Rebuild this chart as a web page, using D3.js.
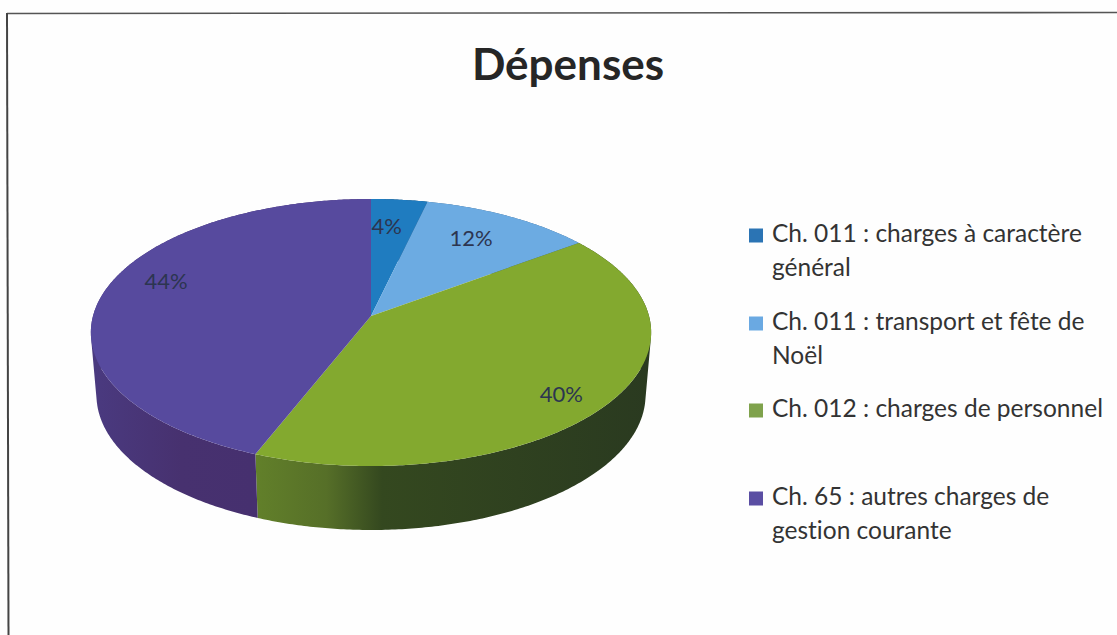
<!DOCTYPE html>
<html lang="fr">
<head>
<meta charset="utf-8">
<script src="https://cdn.jsdelivr.net/npm/d3@7"></script>
<style>
html,body{margin:0;padding:0;background:#fefefe;overflow:hidden}
svg{display:block;font-family:Lato,"Noto Sans",sans-serif;font-variant-ligatures:none}
</style>
</head>
<body>
<svg id="chart" width="1117" height="635"></svg>
<script>
const chartTitle = "Dépenses";
const categories = ["Ch. 011 : charges à caractère général","Ch. 011 : transport et fête de Noël","Ch. 012 : charges de personnel","Ch. 65 : autres charges de gestion courante"];
const legendLines = [["Ch. 011 : charges à caractère","général"],["Ch. 011 : transport et fête de","Noël"],["Ch. 012 : charges de personnel"],["Ch. 65 : autres charges de","gestion courante"]];
const values = [4,12,40,44];
const topColors = ["#1f7cc0","#6cabe2","#83a92f","#574a9e"];
const swatchColors = ["#2b74b4","#6aa9e2","#7fa24c","#5a4ea3"];

// layout
const cx = 371, cy = 316, depthShift = 62.3, rimScaleX = 0.98, rimScaleY = 1.011;
const persp = 0.1236, bx = 278, ay = 131.5, viewWarp = 5*Math.PI/180;
const labelAngleShift = [-2,-2,5,9];
const labelRadius = [0.75,0.75,0.845,0.81];
const legendY = [233,321,408,496];

const svg = d3.select("#chart");
const project = (a0, r = 1) => {
  const s0 = Math.sin(a0);
  const a = a0 - (s0 > 0 ? viewWarp*s0 : 0);
  const x = Math.sin(a)*r, y = -Math.cos(a)*r, d = 1 - persp*y;
  return [bx*x/d, ay*y/d];
};
const topPt = (a, r=1) => { const [X,Y] = project(a,r); return [cx+X, cy+Y]; };
const botPt = a => { const [X,Y] = project(a); return [cx+X*rimScaleX, cy+Y*rimScaleY+depthShift]; };
const sample = (a0,a1) => { const n = Math.max(2,Math.ceil((a1-a0)/0.01)); return d3.range(n+1).map(i=>a0+(a1-a0)*i/n); };
const line = d3.line();
const arcs = d3.pie().sort(null).value(d=>d)(values);

// wall shading: per slice gradient running along x
const defs = svg.append("defs");
const wallStops = [
  [["0%","#13466e"],["100%","#13466e"]],
  [["0%","#3c648a"],["100%","#3c648a"]],
  [["0%","#62802a"],["18%","#566f28"],["32%","#34481f"],["100%","#2a3a20"]],
  [["0%","#4a3a80"],["55%","#47316f"],["100%","#46306f"]]
];
wallStops.forEach((stops,i)=>{
  const extent = d3.extent(sample(arcs[i].startAngle,arcs[i].endAngle).filter(a=>Math.cos(a)<0.1).map(a=>topPt(a)[0]));
  const g = defs.append("linearGradient").attr("id","wall"+i).attr("gradientUnits","userSpaceOnUse")
    .attr("x1",extent[0]??0).attr("x2",extent[1]??1).attr("y1",0).attr("y2",0);
  stops.forEach(s=>g.append("stop").attr("offset",s[0]).attr("stop-color",s[1]));
});

// frame
svg.append("path").attr("d",line([[7,13.5],[1117,12.5]])).attr("stroke","#555").attr("stroke-width",1.6).attr("fill","none");
svg.append("path").attr("d",line([[7,13],[8.5,635]])).attr("stroke","#444").attr("stroke-width",2).attr("fill","none");

// title
svg.append("text").attr("x",568).attr("y",80).attr("text-anchor","middle")
  .attr("font-size",44).attr("font-weight",700).attr("fill","#262626").text(chartTitle);

// walls: each step swept between the upper and lower rim
svg.append("g").selectAll("path").data(arcs).join("path")
  .attr("d",d=>{
    const s = sample(d.startAngle,d.endAngle);
    return d3.pairs(s).map(([a,b])=>
      line(d3.polygonHull([topPt(a),topPt(b),botPt(b),botPt(a)]))+"Z").join("");
  })
  .attr("fill",(d,i)=>`url(#wall${i})`);

// top faces
svg.append("g").selectAll("path").data(arcs).join("path")
  .attr("d",d=>line([[cx,cy]].concat(sample(d.startAngle,d.endAngle).map(a=>topPt(a))))+"Z")
  .attr("fill",(d,i)=>topColors[i]);

// value labels
svg.append("g").selectAll("text").data(arcs).join("text")
  .attr("transform",(d,i)=>{
    const p = topPt((d.startAngle+d.endAngle)/2+labelAngleShift[i]*Math.PI/180,labelRadius[i]);
    return `translate(${p[0]},${p[1]})`;
  })
  .attr("text-anchor","middle").attr("dy","0.35em").attr("font-size",22)
  .attr("fill","#2c3550").text(d=>d.value+"%");

// legend
const lg = svg.append("g").selectAll("g").data(categories).join("g");
lg.append("rect").attr("x",749).attr("y",(d,i)=>legendY[i]-4.5).attr("width",14).attr("height",14).attr("fill",(d,i)=>swatchColors[i]);
lg.append("text").attr("font-size",24.5).attr("fill","#333")
  .selectAll("tspan").data((d,i)=>legendLines[i].map((t,j)=>({t,j,i}))).join("tspan")
  .attr("x",772).attr("y",d=>legendY[d.i]+9+d.j*33.5).text(d=>d.t);
</script>
</body>
</html>
